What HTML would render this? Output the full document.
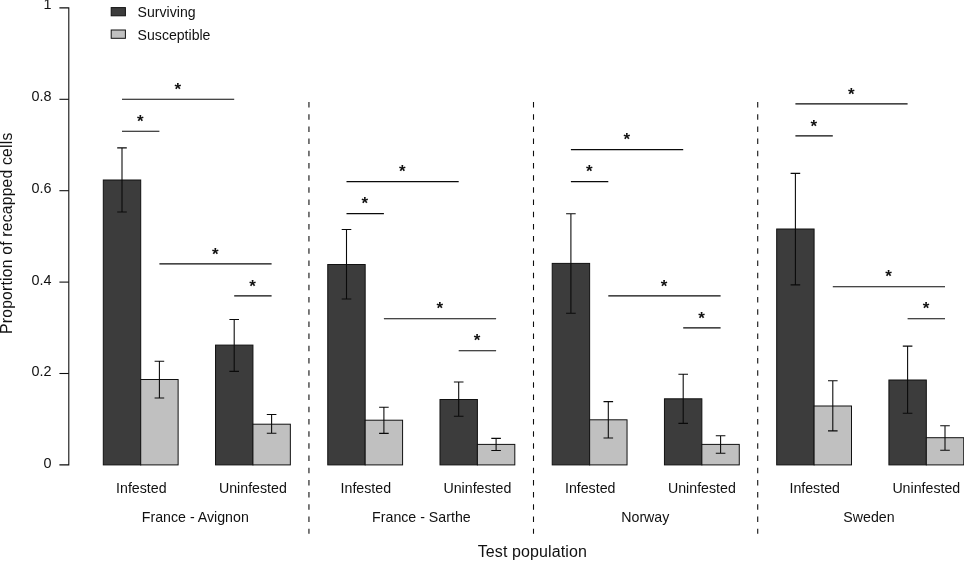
<!DOCTYPE html>
<html lang="en"><head><meta charset="utf-8"><title>Proportion of recapped cells</title>
<style>html,body{margin:0;padding:0;background:#fff}body{width:964px;height:561px;overflow:hidden}svg{display:block;will-change:transform}text{font-family:"Liberation Sans",Arial,Helvetica,sans-serif;fill:#111}</style></head><body>
<svg width="964" height="561" viewBox="0 0 964 561">
<rect width="964" height="561" fill="#fff"/>
<g stroke="#0d0d0d" stroke-width="1.08" fill="none">
<path d="M59.4 7.9 H68.8 V464.9 H59.4"/>
<path d="M59.4 99.3 H68.8"/>
<path d="M59.4 190.7 H68.8"/>
<path d="M59.4 282.1 H68.8"/>
<path d="M59.4 373.5 H68.8"/>
</g>
<g font-size="14.4" text-anchor="end">
<text x="51.5" y="9.3">1</text>
<text x="51.5" y="101.0">0.8</text>
<text x="51.5" y="192.8">0.6</text>
<text x="51.5" y="284.5">0.4</text>
<text x="51.5" y="376.3">0.2</text>
<text x="51.5" y="468.0">0</text>
</g>
<text font-size="15.7" text-anchor="middle" textLength="201.2" lengthAdjust="spacing" transform="translate(12 233.3) rotate(-90)">Proportion of recapped cells</text>
<rect x="111.2" y="7.6" width="14.2" height="8.2" fill="#3c3c3c" stroke="#111" stroke-width="1"/>
<rect x="111.2" y="30" width="14.2" height="8.3" fill="#c0c0c0" stroke="#111" stroke-width="1"/>
<text font-size="14.1" x="137.6" y="17">Surviving</text>
<text font-size="14.1" x="137.6" y="39.5">Susceptible</text>
<path d="M308.95 102 V533.7" stroke="#0d0d0d" stroke-width="1.08" stroke-dasharray="5.5 6.69" fill="none"/>
<path d="M533.50 102 V533.7" stroke="#0d0d0d" stroke-width="1.08" stroke-dasharray="5.5 6.69" fill="none"/>
<path d="M757.72 102 V533.7" stroke="#0d0d0d" stroke-width="1.08" stroke-dasharray="5.5 6.69" fill="none"/>
<rect x="103.30" y="180.0" width="37.41" height="284.9" fill="#3c3c3c" stroke="#111" stroke-width="1"/>
<rect x="140.71" y="379.5" width="37.41" height="85.4" fill="#c0c0c0" stroke="#111" stroke-width="1"/>
<rect x="215.53" y="345.1" width="37.41" height="119.8" fill="#3c3c3c" stroke="#111" stroke-width="1"/>
<rect x="252.94" y="424.2" width="37.41" height="40.7" fill="#c0c0c0" stroke="#111" stroke-width="1"/>
<path d="M122.0 147.9 V212.0 M117.2 147.9 H126.8 M117.2 212.0 H126.8" stroke="#0a0a0a" stroke-width="1.08" fill="none"/>
<path d="M159.4 361.2 V398.0 M154.6 361.2 H164.2 M154.6 398.0 H164.2" stroke="#0a0a0a" stroke-width="1.08" fill="none"/>
<path d="M234.2 319.5 V371.4 M229.4 319.5 H239.0 M229.4 371.4 H239.0" stroke="#0a0a0a" stroke-width="1.08" fill="none"/>
<path d="M271.6 414.5 V433.3 M266.8 414.5 H276.4 M266.8 433.3 H276.4" stroke="#0a0a0a" stroke-width="1.08" fill="none"/>
<path d="M122.0 99.3 H234.2" stroke="#0a0a0a" stroke-width="1.08" fill="none"/>
<text font-size="17" font-weight="bold" text-anchor="middle" x="177.8" y="95">*</text>
<path d="M122.0 131.3 H159.4" stroke="#0a0a0a" stroke-width="1.08" fill="none"/>
<text font-size="17" font-weight="bold" text-anchor="middle" x="140.4" y="127">*</text>
<path d="M159.4 263.9 H271.6" stroke="#0a0a0a" stroke-width="1.08" fill="none"/>
<text font-size="17" font-weight="bold" text-anchor="middle" x="215.2" y="260">*</text>
<path d="M234.2 295.9 H271.6" stroke="#0a0a0a" stroke-width="1.08" fill="none"/>
<text font-size="17" font-weight="bold" text-anchor="middle" x="252.6" y="292">*</text>
<text font-size="14.2" text-anchor="middle" x="141.3" y="493">Infested</text>
<text font-size="14.2" text-anchor="middle" x="252.9" y="493">Uninfested</text>
<text font-size="14.2" text-anchor="middle" x="195.3" y="521.5">France - Avignon</text>
<rect x="327.76" y="264.5" width="37.41" height="200.4" fill="#3c3c3c" stroke="#111" stroke-width="1"/>
<rect x="365.17" y="420.2" width="37.41" height="44.7" fill="#c0c0c0" stroke="#111" stroke-width="1"/>
<rect x="439.99" y="399.5" width="37.41" height="65.4" fill="#3c3c3c" stroke="#111" stroke-width="1"/>
<rect x="477.40" y="444.4" width="37.41" height="20.5" fill="#c0c0c0" stroke="#111" stroke-width="1"/>
<path d="M346.5 229.5 V299.0 M341.7 229.5 H351.3 M341.7 299.0 H351.3" stroke="#0a0a0a" stroke-width="1.08" fill="none"/>
<path d="M383.9 407.3 V433.4 M379.1 407.3 H388.7 M379.1 433.4 H388.7" stroke="#0a0a0a" stroke-width="1.08" fill="none"/>
<path d="M458.7 382.0 V416.2 M453.9 382.0 H463.5 M453.9 416.2 H463.5" stroke="#0a0a0a" stroke-width="1.08" fill="none"/>
<path d="M496.1 438.4 V450.5 M491.3 438.4 H500.9 M491.3 450.5 H500.9" stroke="#0a0a0a" stroke-width="1.08" fill="none"/>
<path d="M346.5 181.6 H458.7" stroke="#0a0a0a" stroke-width="1.08" fill="none"/>
<text font-size="17" font-weight="bold" text-anchor="middle" x="402.3" y="177">*</text>
<path d="M346.5 213.6 H383.9" stroke="#0a0a0a" stroke-width="1.08" fill="none"/>
<text font-size="17" font-weight="bold" text-anchor="middle" x="364.9" y="209">*</text>
<path d="M383.9 318.7 H496.1" stroke="#0a0a0a" stroke-width="1.08" fill="none"/>
<text font-size="17" font-weight="bold" text-anchor="middle" x="439.7" y="314">*</text>
<path d="M458.7 350.7 H496.1" stroke="#0a0a0a" stroke-width="1.08" fill="none"/>
<text font-size="17" font-weight="bold" text-anchor="middle" x="477.1" y="346">*</text>
<text font-size="14.2" text-anchor="middle" x="365.8" y="493">Infested</text>
<text font-size="14.2" text-anchor="middle" x="477.4" y="493">Uninfested</text>
<text font-size="14.2" text-anchor="middle" x="421.4" y="521.5">France - Sarthe</text>
<rect x="552.22" y="263.4" width="37.41" height="201.5" fill="#3c3c3c" stroke="#111" stroke-width="1"/>
<rect x="589.63" y="419.8" width="37.41" height="45.1" fill="#c0c0c0" stroke="#111" stroke-width="1"/>
<rect x="664.45" y="398.8" width="37.41" height="66.1" fill="#3c3c3c" stroke="#111" stroke-width="1"/>
<rect x="701.86" y="444.4" width="37.41" height="20.5" fill="#c0c0c0" stroke="#111" stroke-width="1"/>
<path d="M570.9 213.8 V313.2 M566.1 213.8 H575.7 M566.1 313.2 H575.7" stroke="#0a0a0a" stroke-width="1.08" fill="none"/>
<path d="M608.3 401.6 V438.0 M603.5 401.6 H613.1 M603.5 438.0 H613.1" stroke="#0a0a0a" stroke-width="1.08" fill="none"/>
<path d="M683.2 374.2 V423.4 M678.4 374.2 H688.0 M678.4 423.4 H688.0" stroke="#0a0a0a" stroke-width="1.08" fill="none"/>
<path d="M720.6 435.8 V453.3 M715.8 435.8 H725.4 M715.8 453.3 H725.4" stroke="#0a0a0a" stroke-width="1.08" fill="none"/>
<path d="M570.9 149.6 H683.2" stroke="#0a0a0a" stroke-width="1.08" fill="none"/>
<text font-size="17" font-weight="bold" text-anchor="middle" x="626.7" y="145">*</text>
<path d="M570.9 181.6 H608.3" stroke="#0a0a0a" stroke-width="1.08" fill="none"/>
<text font-size="17" font-weight="bold" text-anchor="middle" x="589.3" y="177">*</text>
<path d="M608.3 295.9 H720.6" stroke="#0a0a0a" stroke-width="1.08" fill="none"/>
<text font-size="17" font-weight="bold" text-anchor="middle" x="664.1" y="292">*</text>
<path d="M683.2 327.9 H720.6" stroke="#0a0a0a" stroke-width="1.08" fill="none"/>
<text font-size="17" font-weight="bold" text-anchor="middle" x="701.6" y="324">*</text>
<text font-size="14.2" text-anchor="middle" x="590.2" y="493">Infested</text>
<text font-size="14.2" text-anchor="middle" x="701.9" y="493">Uninfested</text>
<text font-size="14.2" text-anchor="middle" x="645.3" y="521.5">Norway</text>
<rect x="776.68" y="229.0" width="37.41" height="235.9" fill="#3c3c3c" stroke="#111" stroke-width="1"/>
<rect x="814.09" y="406.0" width="37.41" height="58.9" fill="#c0c0c0" stroke="#111" stroke-width="1"/>
<rect x="888.91" y="380.0" width="37.41" height="84.9" fill="#3c3c3c" stroke="#111" stroke-width="1"/>
<rect x="926.32" y="437.7" width="37.41" height="27.2" fill="#c0c0c0" stroke="#111" stroke-width="1"/>
<path d="M795.4 173.4 V284.9 M790.6 173.4 H800.2 M790.6 284.9 H800.2" stroke="#0a0a0a" stroke-width="1.08" fill="none"/>
<path d="M832.8 380.8 V430.9 M828.0 380.8 H837.6 M828.0 430.9 H837.6" stroke="#0a0a0a" stroke-width="1.08" fill="none"/>
<path d="M907.6 346.1 V413.3 M902.8 346.1 H912.4 M902.8 413.3 H912.4" stroke="#0a0a0a" stroke-width="1.08" fill="none"/>
<path d="M945.0 425.8 V450.2 M940.2 425.8 H949.8 M940.2 450.2 H949.8" stroke="#0a0a0a" stroke-width="1.08" fill="none"/>
<path d="M795.4 103.9 H907.6" stroke="#0a0a0a" stroke-width="1.08" fill="none"/>
<text font-size="17" font-weight="bold" text-anchor="middle" x="851.2" y="100">*</text>
<path d="M795.4 135.9 H832.8" stroke="#0a0a0a" stroke-width="1.08" fill="none"/>
<text font-size="17" font-weight="bold" text-anchor="middle" x="813.8" y="132">*</text>
<path d="M832.8 286.7 H945.0" stroke="#0a0a0a" stroke-width="1.08" fill="none"/>
<text font-size="17" font-weight="bold" text-anchor="middle" x="888.6" y="282">*</text>
<path d="M907.6 318.7 H945.0" stroke="#0a0a0a" stroke-width="1.08" fill="none"/>
<text font-size="17" font-weight="bold" text-anchor="middle" x="926.0" y="314">*</text>
<text font-size="14.2" text-anchor="middle" x="814.7" y="493">Infested</text>
<text font-size="14.2" text-anchor="middle" x="926.3" y="493">Uninfested</text>
<text font-size="14.2" text-anchor="middle" x="869.0" y="521.5">Sweden</text>
<text font-size="16" text-anchor="middle" textLength="109.2" lengthAdjust="spacing" x="532.3" y="557">Test population</text>
</svg></body></html>
